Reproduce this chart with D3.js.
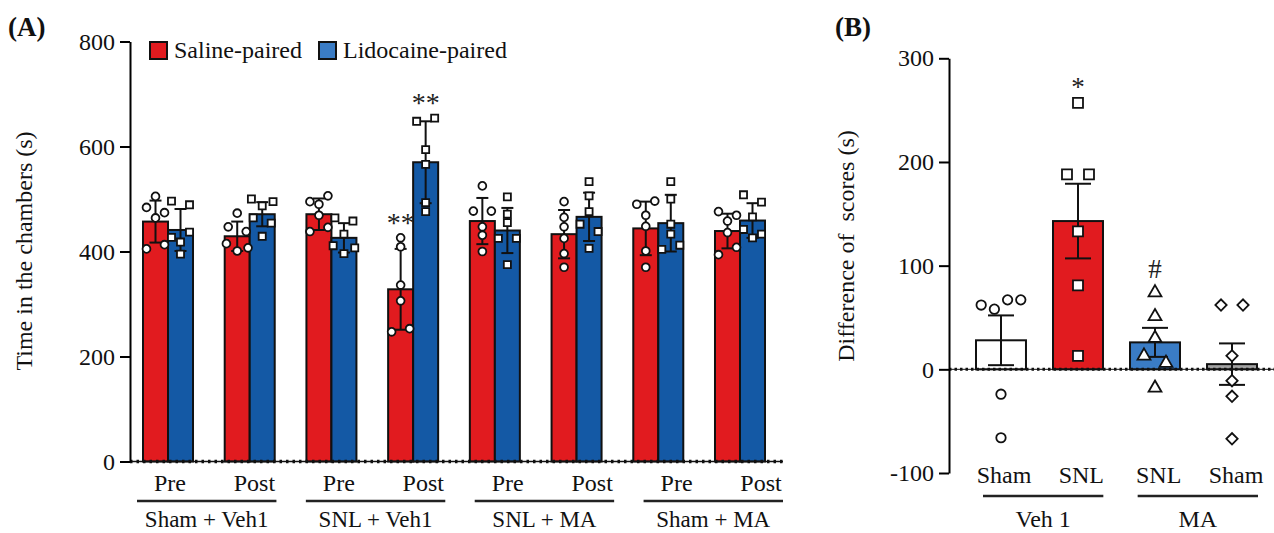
<!DOCTYPE html>
<html lang="en">
<head>
<meta charset="UTF-8">
<title>Conditioned place preference</title>
<script src="https://d3js.org/d3.v7.min.js"></script>
<style>
    body { margin: 0; background: #fff; }
    svg { display: block; font-family: "Liberation Serif", "Times New Roman", serif; }
</style>
</head>
<body>
<div id="chart"></div>
<script>
// ---- panel A data ----
var groups = ["Sham + Veh1", "SNL + Veh1", "SNL + MA", "Sham + MA"];
var phases = ["Pre", "Post"];
var series = ["Saline-paired", "Lidocaine-paired"];
var ticksA = [0, 200, 400, 600, 800];

// order: Sham+Veh1 Pre, Post, SNL+Veh1 Pre, Post, SNL+MA Pre, Post, Sham+MA Pre, Post
var salineMean = [457, 429, 471, 328, 458, 433, 444, 439];
var salineSD = [40, 28, 30, 77, 44, 46, 51, 33];
var lidoMean = [441, 471, 426, 570, 440, 466, 454, 459];
var lidoSD = [40, 23, 28, 78, 43, 46, 54, 33];

var salinePts = [
    [505, 484, 474, 464, 405, 413],
    [473, 447, 438, 415, 401, 407],
    [495, 506, 490, 469, 438, 446],
    [426, 409, 336, 306, 247, 253],
    [525, 477, 477, 447, 431, 400],
    [495, 465, 447, 425, 396, 370],
    [490, 496, 469, 448, 401, 370],
    [476, 469, 458, 436, 394, 408]
];
var lidoPts = [
    [496, 489, 427, 437, 418, 395],
    [500, 487, 495, 464, 454, 429],
    [464, 458, 433, 411, 396, 407],
    [648, 654, 594, 566, 493, 476],
    [504, 471, 455, 425, 425, 375],
    [533, 506, 476, 452, 438, 406],
    [533, 500, 452, 433, 404, 412],
    [508, 494, 466, 442, 426, 433]
];
var marksA = [
    { group: "SNL + Veh1", phase: "Post", series: "Saline-paired", text: "**" },
    { group: "SNL + Veh1", phase: "Post", series: "Lidocaine-paired", text: "**" }
];

// ---- panel B data ----
var diffLabels = ["Sham", "SNL", "SNL", "Sham"];
var treatments = ["Veh 1", "MA"];
var ticksB = [-100, 0, 100, 200, 300];
var diffMean = [28, 143, 26, 5];
var diffSEM = [24, 36, 14, 20];
var diffPts = [
    [62, 58, 67, 67, -24, -66],
    [257, 188, 188, 133, 81, 13],
    [74, 51, 30, 13, 6, -18],
    [62, 62, 13, -11, -26, -67]
];
var marksB = [{ index: 1, text: "*" }, { index: 2, text: "#" }];

var red = "#e11b1f", blueA = "#1459a5", blueB = "#3a7cc5";

var width = 1274, height = 533;
var svg = d3.select("#chart").append("svg")
    .attr("width", width)
    .attr("height", height);

// simple row based scatter: close values share a row and spread sideways
function swarm(vals, y, cx, rowH, d) {
    var items = vals.map(function(v, i) { return { v: v, y: y(v), i: i }; });
    var sorted = items.slice().sort(function(a, b) { return a.y - b.y; });
    var rows = [], cur = null;
    sorted.forEach(function(p) {
        if (cur && p.y - cur[0].y <= rowH) cur.push(p);
        else { cur = [p]; rows.push(cur); }
    });
    rows.forEach(function(r) {
        r.sort(function(a, b) { return a.i - b.i; });
        var k = r.length;
        var step = k == 2 ? 2 * d : 1.2 * d;
        r.forEach(function(p, j) { p.x = cx + (j - (k - 1) / 2) * step; });
    });
    return items;
}

function styleAxis(g) {
    g.attr("font-size", 24).attr("font-family", "Liberation Serif");
    g.select(".domain").attr("stroke-width", 2);
    g.selectAll(".tick line").attr("stroke-width", 2);
    g.selectAll(".tick text").attr("fill", "#111");
}

// ================= Panel A =================
var conditions = [];
groups.forEach(function(g) {
    phases.forEach(function(p) { conditions.push(g + "|" + p); });
});

var xA = d3.scaleBand().domain(conditions).range([143, 765]).paddingInner(0.388).paddingOuter(0);
var xSub = d3.scaleBand().domain(series).range([0, xA.bandwidth()]);
var xLabA = d3.scalePoint().domain(conditions).range([170, 761]);
var yA = d3.scaleLinear().domain([0, 800]).range([461.5, 41.5]);

var rowsA = [];
conditions.forEach(function(c, i) {
    rowsA.push({ cond: c, series: series[0], mean: salineMean[i], sd: salineSD[i], pts: salinePts[i], fill: red });
    rowsA.push({ cond: c, series: series[1], mean: lidoMean[i], sd: lidoSD[i], pts: lidoPts[i], fill: blueA });
});

var gA = svg.append("g");

gA.selectAll("rect.bar")
    .data(rowsA)
    .enter().append("rect")
    .attr("class", "bar")
    .attr("x", function(d) { return xA(d.cond) + xSub(d.series); })
    .attr("y", function(d) { return yA(d.mean); })
    .attr("width", xSub.bandwidth())
    .attr("height", function(d) { return yA(0) - yA(d.mean); })
    .attr("fill", function(d) { return d.fill; })
    .attr("stroke", "#111")
    .attr("stroke-width", 2);

var errA = gA.selectAll("g.err")
    .data(rowsA)
    .enter().append("g")
    .attr("transform", function(d) {
        return "translate(" + (xA(d.cond) + xSub(d.series) + xSub.bandwidth() / 2) + ",0)";
    })
    .attr("stroke", "#111")
    .attr("stroke-width", 2);
errA.append("line")
    .attr("x1", 0).attr("x2", 0)
    .attr("y1", function(d) { return yA(d.mean + d.sd); })
    .attr("y2", function(d) { return yA(d.mean - d.sd); });
errA.append("line")
    .attr("x1", -6).attr("x2", 6)
    .attr("y1", function(d) { return yA(d.mean + d.sd); })
    .attr("y2", function(d) { return yA(d.mean + d.sd); });
errA.append("line")
    .attr("x1", -6).attr("x2", 6)
    .attr("y1", function(d) { return yA(d.mean - d.sd); })
    .attr("y2", function(d) { return yA(d.mean - d.sd); });

rowsA.forEach(function(d) {
    var cx = xA(d.cond) + xSub(d.series) + xSub.bandwidth() / 2;
    var pts = swarm(d.pts, yA, cx, 8, 9);
    var sym = d.series == series[0] ? d3.symbolCircle : d3.symbolSquare;
    var size = d.series == series[0] ? 48 : 50;
    gA.selectAll(null)
        .data(pts)
        .enter().append("path")
        .attr("d", d3.symbol().type(sym).size(size))
        .attr("transform", function(p) { return "translate(" + p.x + "," + p.y + ")"; })
        .attr("fill", "#fff")
        .attr("stroke", "#111")
        .attr("stroke-width", 1.8);
});

// baseline
gA.append("line")
    .attr("x1", 130).attr("x2", 783)
    .attr("y1", yA(0)).attr("y2", yA(0))
    .attr("stroke", "#111").attr("stroke-width", 1.5);
gA.append("line")
    .attr("x1", 130).attr("x2", 783)
    .attr("y1", yA(0)).attr("y2", yA(0))
    .attr("stroke", "#111").attr("stroke-width", 3.5)
    .attr("stroke-dasharray", "2.5,4");

gA.append("g")
    .attr("transform", "translate(130,0)")
    .call(d3.axisLeft(yA).tickValues(ticksA).tickSize(10).tickSizeOuter(0).tickPadding(5))
    .call(styleAxis);

// significance marks
marksA.forEach(function(m) {
    var c = m.group + "|" + m.phase;
    var r = rowsA.filter(function(d) { return d.cond == c && d.series == m.series; })[0];
    var top = Math.max(d3.max(r.pts), r.mean + r.sd);
    gA.append("text")
        .attr("x", xA(c) + xSub(m.series) + xSub.bandwidth() / 2)
        .attr("y", yA(top) - 6)
        .attr("text-anchor", "middle")
        .attr("font-size", 28)
        .attr("fill", "#222")
        .text(m.text);
});

// category labels
gA.selectAll("text.phase")
    .data(conditions)
    .enter().append("text")
    .attr("class", "phase")
    .attr("x", function(c) { return xLabA(c); })
    .attr("y", 491)
    .attr("text-anchor", "middle")
    .attr("font-size", 24)
    .attr("fill", "#111")
    .text(function(c) { return c.split("|")[1]; });

groups.forEach(function(g) {
    var x1 = xLabA(g + "|" + phases[0]) - 33;
    var x2 = xLabA(g + "|" + phases[1]) + 22;
    gA.append("line")
        .attr("x1", x1).attr("x2", x2)
        .attr("y1", 501).attr("y2", 501)
        .attr("stroke", "#222").attr("stroke-width", 2.5);
    gA.append("text")
        .attr("x", (x1 + x2) / 2)
        .attr("y", 527)
        .attr("text-anchor", "middle")
        .attr("font-size", 23)
        .attr("fill", "#111")
        .text(g);
});

// y title
gA.append("text")
    .attr("transform", "translate(32,251) rotate(-90)")
    .attr("text-anchor", "middle")
    .attr("font-size", 24)
    .attr("fill", "#111")
    .text("Time in the chambers (s)");

gA.append("text")
    .attr("x", 8).attr("y", 36)
    .attr("font-size", 27)
    .attr("font-weight", "bold")
    .attr("fill", "#111")
    .text("(A)");

// legend
var legX = [150, 319];
var leg = gA.selectAll("g.leg")
    .data(series)
    .enter().append("g")
    .attr("transform", function(d, i) { return "translate(" + legX[i] + ",42)"; });
leg.append("rect")
    .attr("width", 17).attr("height", 17)
    .attr("fill", function(d, i) { return i == 0 ? red : blueB; })
    .attr("stroke", "#111").attr("stroke-width", 2);
leg.append("text")
    .attr("x", 24).attr("y", 16)
    .attr("font-size", 24)
    .attr("fill", "#111")
    .text(function(d) { return d; });

// ================= Panel B =================
var idx = diffMean.map(function(d, i) { return i; });
var xB = d3.scaleBand().domain(idx).range([976, 1257]).paddingInner(0.351).paddingOuter(0);
var xLabB = d3.scalePoint().domain(idx).range([1004, 1236]);
var yB = d3.scaleLinear().domain([-100, 300]).range([473, 58.3]);
var fillsB = ["#fff", red, blueB, "#a3a3a3"];
var symsB = [d3.symbolCircle, d3.symbolSquare, d3.symbolTriangle, d3.symbolSquare];
var sizesB = [70, 100, 72, 64];

var gB = svg.append("g");

gB.selectAll("rect.bar")
    .data(idx)
    .enter().append("rect")
    .attr("x", function(i) { return xB(i); })
    .attr("y", function(i) { return yB(Math.max(0, diffMean[i])); })
    .attr("width", xB.bandwidth())
    .attr("height", function(i) { return Math.abs(yB(0) - yB(diffMean[i])); })
    .attr("fill", function(i) { return fillsB[i]; })
    .attr("stroke", "#111")
    .attr("stroke-width", 2);

var errB = gB.selectAll("g.err")
    .data(idx)
    .enter().append("g")
    .attr("transform", function(i) { return "translate(" + (xB(i) + xB.bandwidth() / 2) + ",0)"; })
    .attr("stroke", "#111")
    .attr("stroke-width", 2);
errB.append("line")
    .attr("x1", 0).attr("x2", 0)
    .attr("y1", function(i) { return yB(diffMean[i] + diffSEM[i]); })
    .attr("y2", function(i) { return yB(diffMean[i] - diffSEM[i]); });
errB.append("line")
    .attr("x1", -13).attr("x2", 13)
    .attr("y1", function(i) { return yB(diffMean[i] + diffSEM[i]); })
    .attr("y2", function(i) { return yB(diffMean[i] + diffSEM[i]); });
errB.append("line")
    .attr("x1", -13).attr("x2", 13)
    .attr("y1", function(i) { return yB(diffMean[i] - diffSEM[i]); })
    .attr("y2", function(i) { return yB(diffMean[i] - diffSEM[i]); });

// zero line
gB.append("line")
    .attr("x1", 949).attr("x2", 1274)
    .attr("y1", yB(0)).attr("y2", yB(0))
    .attr("stroke", "#111").attr("stroke-width", 1);
gB.append("line")
    .attr("x1", 949).attr("x2", 1274)
    .attr("y1", yB(0)).attr("y2", yB(0))
    .attr("stroke", "#111").attr("stroke-width", 3)
    .attr("stroke-dasharray", "2.5,3");

idx.forEach(function(i) {
    var cx = xB(i) + xB.bandwidth() / 2;
    var pts = swarm(diffPts[i], yB, cx, 12, 11);
    gB.selectAll(null)
        .data(pts)
        .enter().append("path")
        .attr("d", d3.symbol().type(symsB[i]).size(sizesB[i]))
        .attr("transform", function(p) {
            return "translate(" + p.x + "," + p.y + ")" + (i == 3 ? " rotate(45)" : "");
        })
        .attr("fill", "#fff")
        .attr("stroke", "#111")
        .attr("stroke-width", 1.8);
});

gB.append("g")
    .attr("transform", "translate(949,0)")
    .call(d3.axisLeft(yB).tickValues(ticksB).tickSize(10).tickSizeOuter(0).tickPadding(5)
        .tickFormat(function(d) { return String(d); }))
    .call(styleAxis);

marksB.forEach(function(m) {
    var top = Math.max(d3.max(diffPts[m.index]), diffMean[m.index] + diffSEM[m.index]);
    gB.append("text")
        .attr("x", xB(m.index) + xB.bandwidth() / 2)
        .attr("y", yB(top) - (m.text == "#" ? 15 : 7))
        .attr("text-anchor", "middle")
        .attr("font-size", 27)
        .attr("fill", "#222")
        .text(m.text);
});

gB.selectAll("text.cat")
    .data(idx)
    .enter().append("text")
    .attr("x", function(i) { return xLabB(i); })
    .attr("y", 483)
    .attr("text-anchor", "middle")
    .attr("font-size", 24)
    .attr("fill", "#111")
    .text(function(i) { return diffLabels[i]; });

treatments.forEach(function(t, k) {
    var x1 = xLabB(k * 2) - 21;
    var x2 = xLabB(k * 2 + 1) + 22;
    gB.append("line")
        .attr("x1", x1).attr("x2", x2)
        .attr("y1", 496).attr("y2", 496)
        .attr("stroke", "#222").attr("stroke-width", 2.5);
    gB.append("text")
        .attr("x", (x1 + x2) / 2)
        .attr("y", 527)
        .attr("text-anchor", "middle")
        .attr("font-size", 24)
        .attr("fill", "#111")
        .text(t);
});

gB.append("text")
    .attr("transform", "translate(854,246) rotate(-90)")
    .attr("text-anchor", "middle")
    .attr("font-size", 24)
    .attr("fill", "#111")
    .style("white-space", "pre")
    .text("Difference of  scores (s)");

gB.append("text")
    .attr("x", 835).attr("y", 36)
    .attr("font-size", 27)
    .attr("font-weight", "bold")
    .attr("fill", "#111")
    .text("(B)");
</script>
</body>
</html>
